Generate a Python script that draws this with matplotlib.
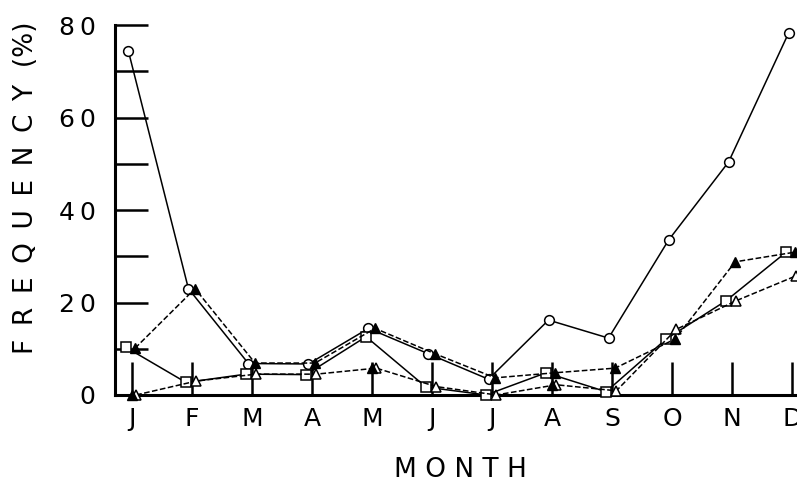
import numpy as np
import matplotlib
matplotlib.use('Agg')
import matplotlib.pyplot as plt

months = ['J', 'F', 'M', 'A', 'M', 'J', 'J', 'A', 'S', 'O', 'N', 'D']

# frequency (%)
circles = [74.4, 23.0, 6.8, 6.7, 14.4, 8.9, 3.4, 16.2, 12.3, 33.5, 50.4, 78.3]
filled_tri = [10.1, 23.0, 6.9, 6.9, 14.4, 8.9, 3.7, 4.8, 5.8, 12.1, 28.8, 30.9]
squares = [10.3, 2.7, 4.5, 4.4, 12.6, 1.7, 0.0, 4.8, 0.7, 12.1, 20.4, 30.9]
open_tri = [0.0, 3.0, 4.5, 4.5, 5.8, 1.8, 0.0, 2.2, 0.9, 14.2, 20.4, 25.8]
# solid arrow heads sitting on top of a few month ticks
tip_months = [0, 4, 7]
tip_vals = [0.0, 5.8, 2.2]

x = np.arange(len(months))

fig = plt.figure(figsize=(7.97, 4.84), dpi=100)
ax = fig.add_axes([0.1443, 0.184, 0.8557, 0.764])

ms = 7
ax.plot(x - 0.06, circles, '-', c='k', lw=1.1, marker='o', ms=ms, mfc='white', mec='k', mew=1.1, clip_on=False, zorder=3)
ax.plot(x - 0.1, squares, '-', c='k', lw=1.1, marker='s', ms=ms - 0.5, mfc='white', mec='k', mew=1.1, clip_on=False, zorder=3)
ax.plot(x + 0.07, open_tri, '--', c='k', lw=1.1, marker='^', ms=ms + 0.5, mfc='white', mec='k', mew=1.1, clip_on=False, zorder=3)
ax.plot(x + 0.05, filled_tri, '--', c='k', lw=1.1, marker='^', ms=ms, mfc='k', mec='k', clip_on=False, zorder=4)
ax.plot(x[tip_months], tip_vals, ls='none', marker='^', ms=ms, c='k', clip_on=False, zorder=5)

ax.set_xlim(-0.283, 11.08)
ax.set_ylim(0, 80)

for s in ['top', 'right']:
    ax.spines[s].set_visible(False)
for s in ['left', 'bottom']:
    ax.spines[s].set_linewidth(2.2)

sp = '\u2009'
ax.set_xticks(x)
ax.set_xticklabels(months)
ax.set_yticks(np.arange(0, 81, 10))
ax.set_yticklabels([sp.join(str(v)) if v % 20 == 0 else '' for v in range(0, 81, 10)])
ax.tick_params(axis='both', direction='in', length=24, width=1.8, labelsize=18)
ax.tick_params(axis='x', pad=9)
ax.tick_params(axis='y', pad=14)

ax.set_xlabel(' '.join('MONTH'), fontsize=19)
ax.xaxis.set_label_coords(0.507, -0.168)
ax.set_ylabel((' ' + sp).join('FREQUENCY') + '  (%)', fontsize=19)
ax.yaxis.set_label_coords(-0.112, 0.56)

fig.savefig('out.png', dpi=100)
